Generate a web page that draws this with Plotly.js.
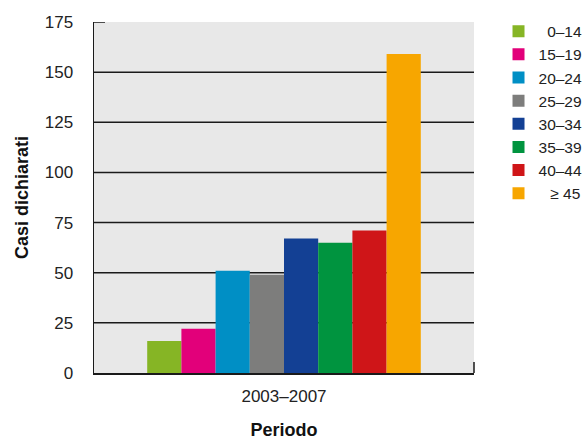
<!DOCTYPE html>
<html>
<head>
<meta charset="utf-8">
<script src="https://cdn.plot.ly/plotly-3.0.1.min.js"></script>
<style>html,body{margin:0;padding:0;background:#fff;}#chart{width:587px;height:440px;}</style>
</head>
<body>
<div id="chart"></div>
<script>
const period = ['2003\u20132007'];
const ageGroups = ['\u20070\u201314', '15\u201319', '20\u201324', '25\u201329', '30\u201334', '35\u201339', '40\u201344', '\u2007\u2009\u2265 45'];
const cases = [16, 22, 51, 49, 67, 65, 71, 159];
const colors = ['#86b525', '#e2007a', '#008fc5', '#7d7d7c', '#134094', '#00943f', '#cf1518', '#f7a600'];
const yTicks = [0, 25, 50, 75, 100, 125, 150, 175];
const gridValues = [25, 50, 75, 100, 125, 150];

const font = 'Liberation Sans, Arial, Helvetica, sans-serif';

const data = ageGroups.map((g, i) => ({
  type: 'bar',
  name: g,
  x: period,
  y: [cases[i]],
  marker: {color: colors[i], line: {width: 0}},
  hoverinfo: 'none'
}));

const shapes = gridValues.map(v => ({
  type: 'line', xref: 'paper', yref: 'y', x0: 0, x1: 1, y0: v, y1: v,
  line: {color: '#1a1a1a', width: 1.5}, layer: 'below'
}));
shapes.push({type: 'line', xref: 'paper', yref: 'y', x0: 0, x1: 0.029, y0: 175, y1: 175,
  line: {color: '#1a1a1a', width: 1.5}, layer: 'above'});
shapes.push({type: 'line', xref: 'paper', yref: 'y', x0: 1, x1: 1, y0: 0, y1: 5.5,
  line: {color: '#1a1a1a', width: 1.5}, layer: 'above'});

const layout = {
  width: 587, height: 440,
  margin: {l: 94, r: 113, t: 22, b: 67, pad: 0, autoexpand: false},
  paper_bgcolor: '#ffffff',
  plot_bgcolor: '#e8e8e8',
  font: {family: font, size: 17, color: '#222'},
  barmode: 'group',
  bargap: 0.28,
  bargroupgap: 0,
  showlegend: true,
  legend: {
    x: 1.0645, xanchor: 'left', y: 1.021, yanchor: 'top',
    traceorder: 'normal',
    font: {family: font, size: 15.5, color: '#222'},
    bgcolor: 'rgba(0,0,0,0)'
  },
  xaxis: {
    showgrid: false, zeroline: false,
    showline: true, linecolor: '#1a1a1a', linewidth: 1.5,
    ticks: '', ticklabelstandoff: 7,
    tickfont: {family: font, size: 17, color: '#222'},
    title: {text: '<b>Periodo</b>', font: {family: font, size: 18, color: '#111'}, standoff: 30},
    fixedrange: true
  },
  yaxis: {
    range: [0, 175], showgrid: false, zeroline: false,
    showline: true, linecolor: '#1a1a1a', linewidth: 1.5,
    tickvals: yTicks, ticktext: yTicks.map(String),
    ticks: '', ticklabelstandoff: 16,
    tickfont: {family: font, size: 17, color: '#222'},
    title: {text: '<b>Casi dichiarati</b>', font: {family: font, size: 18, color: '#111'}, standoff: 11},
    fixedrange: true
  },
  shapes: shapes
};

Plotly.newPlot('chart', data, layout, {displayModeBar: false, staticPlot: true});
</script>
</body>
</html>
